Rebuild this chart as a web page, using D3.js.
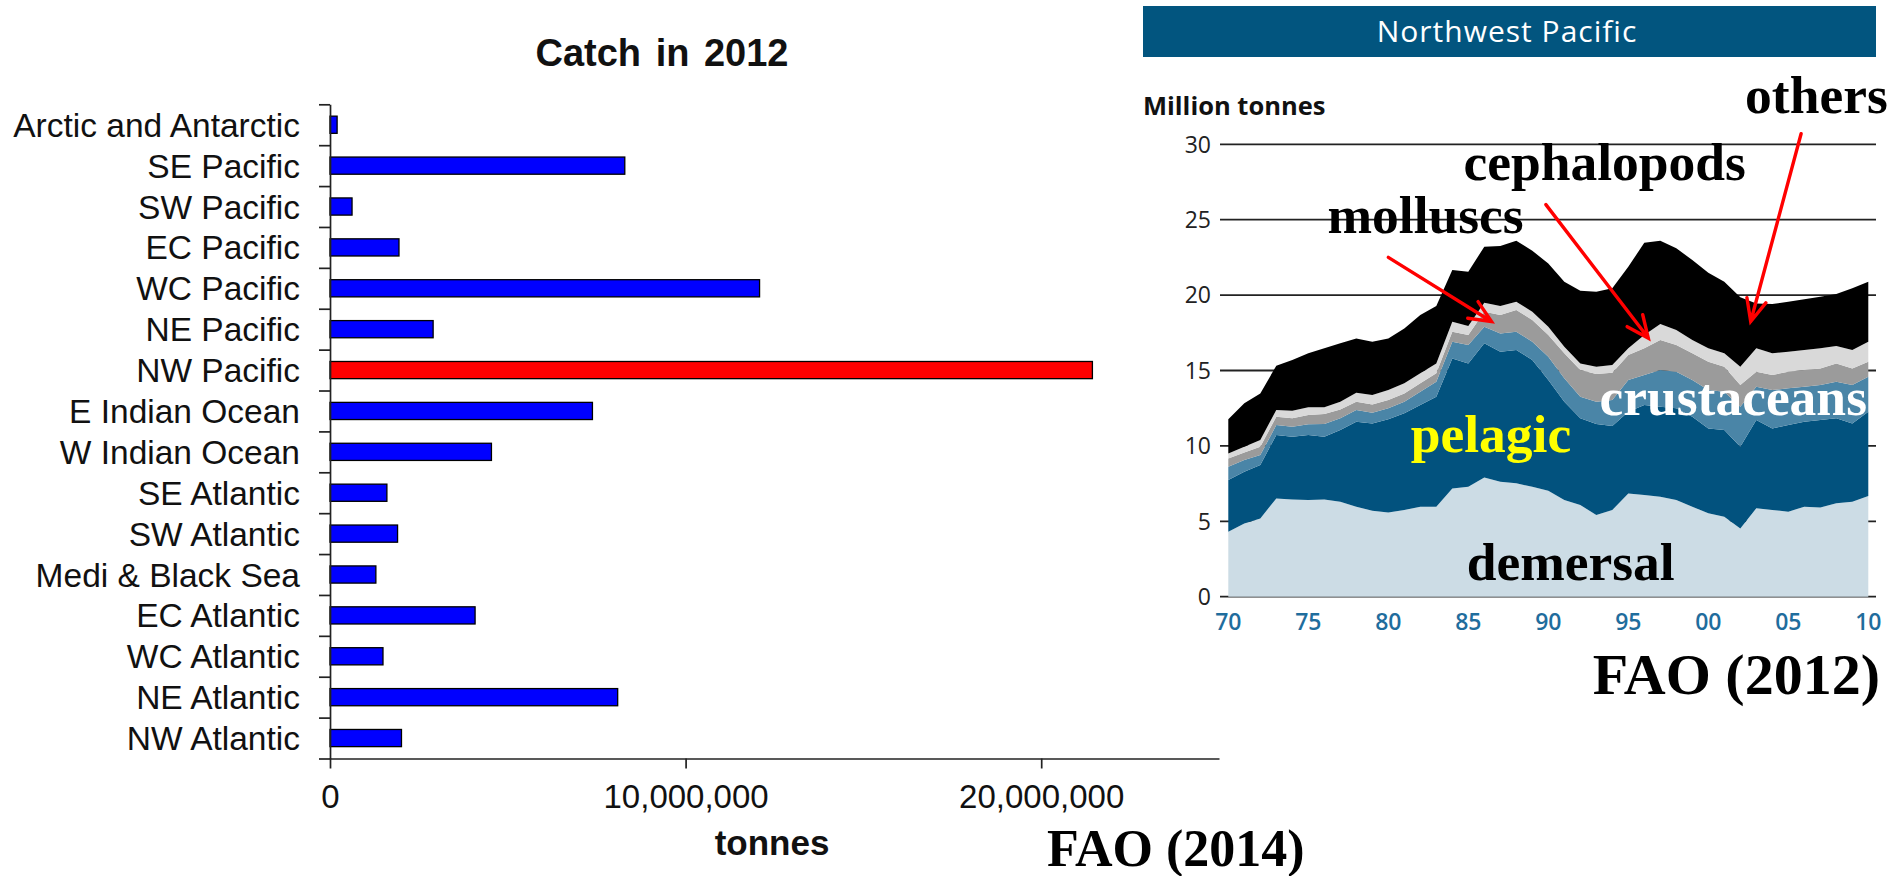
<!DOCTYPE html>
<html>
<head>
<meta charset="utf-8">
<script src="https://cdn.jsdelivr.net/npm/d3@7"></script>
<style>
  html, body { margin: 0; padding: 0; background: #ffffff; }
  svg { display: block; }
</style>
</head>
<body>
<svg id="fig" width="1904" height="876"></svg>
<script>
// ---------- Catch in 2012 by FAO fishing area (tonnes) ----------
const regions = [
  "Arctic and Antarctic", "SE Pacific", "SW Pacific", "EC Pacific", "WC Pacific",
  "NE Pacific", "NW Pacific", "E Indian Ocean", "W Indian Ocean", "SE Atlantic",
  "SW Atlantic", "Medi & Black Sea", "EC Atlantic", "WC Atlantic", "NE Atlantic", "NW Atlantic"
];
const catch2012 = [
  200000, 8290000, 620000, 1940000, 12080000,
  2900000, 21440000, 7380000, 4540000, 1600000,
  1900000, 1290000, 4080000, 1490000, 8090000, 2010000
];
const highlighted = "NW Pacific";
const catchTicks = [0, 10000000, 20000000];

// ---------- Northwest Pacific catch by species group (million tonnes) ----------
const years = [
  1970, 1971, 1972, 1973, 1974, 1975, 1976, 1977, 1978, 1979,
  1980, 1981, 1982, 1983, 1984, 1985, 1986, 1987, 1988, 1989,
  1990, 1991, 1992, 1993, 1994, 1995, 1996, 1997, 1998, 1999,
  2000, 2001, 2002, 2003, 2004, 2005, 2006, 2007, 2008, 2009, 2010
];
const demersal = [
  4.31, 4.86, 5.19, 6.52, 6.45, 6.41, 6.45, 6.30, 5.97, 5.70,
  5.59, 5.75, 5.97, 5.97, 7.18, 7.29, 7.91, 7.63, 7.52, 7.29,
  7.03, 6.41, 6.08, 5.42, 5.75, 6.85, 6.74, 6.63, 6.41, 5.97,
  5.53, 5.30, 4.53, 5.86, 5.75, 5.64, 5.97, 5.92, 6.19, 6.30, 6.68
];
const pelagic = [
  3.43, 3.43, 3.54, 4.20, 4.16, 4.31, 4.16, 4.75, 5.63, 5.79,
  6.17, 6.41, 6.74, 7.29, 8.62, 8.18, 8.89, 8.62, 8.84, 8.40,
  7.34, 6.52, 5.75, 6.03, 5.57, 5.42, 5.97, 5.97, 6.08, 5.97,
  5.63, 5.75, 5.42, 5.86, 5.41, 5.74, 5.63, 5.80, 5.64, 5.19, 5.59
];
const crustaceans = [
  0.88, 0.77, 0.66, 0.66, 0.66, 0.71, 0.84, 0.78, 0.78, 0.71,
  0.73, 0.77, 0.88, 1.00, 1.11, 1.22, 1.10, 1.21, 1.21, 1.22,
  1.55, 1.55, 1.43, 1.48, 1.72, 2.10, 1.99, 2.43, 2.43, 2.43,
  2.54, 2.54, 2.65, 2.21, 2.54, 2.44, 2.33, 2.32, 2.43, 2.55, 2.32
];
const molluscs = [
  0.55, 0.51, 0.56, 0.56, 0.56, 0.62, 0.66, 0.59, 0.55, 0.55,
  0.55, 0.55, 0.56, 0.55, 0.66, 0.66, 1.00, 1.22, 1.44, 1.44,
  1.43, 1.66, 1.77, 1.84, 1.81, 1.66, 1.77, 1.99, 1.77, 1.77,
  1.88, 1.66, 1.44, 0.99, 1.00, 1.10, 1.10, 1.10, 1.21, 1.10, 0.99
];
const cephalopods = [
  0.33, 0.38, 0.44, 0.44, 0.50, 0.51, 0.45, 0.51, 0.60, 0.62,
  0.66, 0.67, 0.66, 0.66, 0.67, 0.60, 0.60, 0.59, 0.55, 0.55,
  0.55, 0.44, 0.44, 0.48, 0.51, 0.44, 0.88, 1.06, 0.99, 0.88,
  0.89, 0.89, 1.21, 1.55, 1.44, 1.33, 1.33, 1.33, 1.15, 1.22, 1.33
];
const others = [
  2.26, 2.87, 3.09, 2.94, 3.36, 3.58, 3.91, 3.87, 3.60, 3.54,
  3.43, 3.64, 3.87, 3.80, 3.42, 3.60, 3.71, 3.98, 4.05, 4.04,
  4.20, 4.31, 4.82, 4.98, 5.09, 5.41, 6.12, 5.53, 5.42, 5.31,
  5.02, 4.75, 4.60, 2.98, 3.27, 3.31, 3.36, 3.42, 3.45, 4.09, 3.98
];
const groupKeys = ["demersal", "pelagic", "crustaceans", "molluscs", "cephalopods", "others"];
const groupColors = ["#ccdce5", "#02527e", "#4a85a7", "#9b9b9b", "#d9d9d9", "#000000"];
const yTicksMt = [0, 5, 10, 15, 20, 25, 30];
const xTickYears = [1970, 1975, 1980, 1985, 1990, 1995, 2000, 2005, 2010];
const xTickLabels = ["70", "75", "80", "85", "90", "95", "00", "05", "10"];

const svg = d3.select("#fig");
svg.append("rect").attr("width", 1904).attr("height", 876).attr("fill", "#fff");

// ================= Left: horizontal bar chart =================
const SANS = "'Liberation Sans', Arial, sans-serif";
const SERIF = "'Liberation Serif', 'Times New Roman', serif";
const FAO_SANS = "'Open Sans', 'Noto Sans', sans-serif";

const barX = d3.scaleLinear().domain([0, 25000000]).range([330, 1219]);
const barY = d3.scaleBand().domain(regions).range([104.3, 758.5])
  .paddingInner(0.58).paddingOuter(0.29);
const edgeY = d3.scaleLinear().domain([0, regions.length]).range(barY.range());

const left = svg.append("g");

left.append("text")
  .attr("x", 662).attr("y", 66)
  .attr("text-anchor", "middle")
  .attr("font-family", SANS).attr("font-weight", "bold").attr("font-size", 38)
  .attr("word-spacing", 4)
  .attr("fill", "#111")
  .text("Catch in 2012");

left.append("g").selectAll("rect")
  .data(regions.map((r, i) => ({ region: r, value: catch2012[i] })))
  .join("rect")
  .attr("x", barX(0))
  .attr("y", d => barY(d.region))
  .attr("width", d => barX(d.value) - barX(0))
  .attr("height", barY.bandwidth())
  .attr("fill", d => d.region === highlighted ? "#ff0000" : "#0000ff")
  .attr("stroke", "#000").attr("stroke-width", 1.3);

// category axis: ticks on the band boundaries
const yAxisG = left.append("g")
  .attr("transform", `translate(${barX(0)},0)`)
  .call(d3.axisLeft(edgeY).tickValues(d3.range(0, regions.length + 1))
    .tickFormat("").tickSize(11).tickSizeOuter(0));
yAxisG.selectAll("path, line").attr("stroke", "#222").attr("stroke-width", 1.7);

left.append("g").selectAll("text")
  .data(regions)
  .join("text")
  .attr("x", 300)
  .attr("y", d => barY(d) + barY.bandwidth() / 2)
  .attr("dy", "0.36em")
  .attr("text-anchor", "end")
  .attr("font-family", SANS).attr("font-size", 33.5)
  .attr("fill", "#111")
  .text(d => d);

const xAxisG = left.append("g")
  .attr("transform", `translate(0,${barY.range()[1]})`)
  .call(d3.axisBottom(barX).tickValues(catchTicks).tickFormat(d3.format(","))
    .tickSize(10).tickSizeOuter(0).tickPadding(16));
xAxisG.selectAll("path, line").attr("stroke", "#222").attr("stroke-width", 1.7);
xAxisG.selectAll("text")
  .attr("font-family", SANS).attr("font-size", 33).attr("fill", "#111");

left.append("text")
  .attr("x", 772).attr("y", 855)
  .attr("text-anchor", "middle")
  .attr("font-family", SANS).attr("font-weight", "bold").attr("font-size", 35)
  .attr("fill", "#111")
  .text("tonnes");

left.append("text")
  .attr("x", 1047).attr("y", 866)
  .attr("font-family", SERIF).attr("font-weight", "bold").attr("font-size", 52)
  .attr("fill", "#000")
  .text("FAO (2014)");

// ================= Right: stacked area chart =================
const ax = d3.scaleLinear().domain([1970, 2010]).range([1228.3, 1868.3]);
const ay = d3.scaleLinear().domain([0, 30]).range([596.7, 144.3]);

const right = svg.append("g");

// title banner
right.append("rect")
  .attr("x", 1143).attr("y", 6).attr("width", 733).attr("height", 51)
  .attr("fill", "#02557f");
right.append("text")
  .attr("x", 1507).attr("y", 42)
  .attr("text-anchor", "middle")
  .attr("font-family", FAO_SANS).attr("font-size", 30).attr("letter-spacing", 1)
  .attr("fill", "#fff")
  .text("Northwest Pacific");

right.append("text")
  .attr("x", 1143).attr("y", 115)
  .attr("font-family", FAO_SANS).attr("font-weight", "bold").attr("font-size", 25.5)
  .attr("fill", "#111")
  .text("Million tonnes");

// horizontal grid, behind the areas
right.append("g").selectAll("line")
  .data(yTicksMt)
  .join("line")
  .attr("x1", 1220).attr("x2", 1876)
  .attr("y1", d => ay(d)).attr("y2", d => ay(d))
  .attr("stroke", "#222").attr("stroke-width", 1.8);

right.append("g").selectAll("text")
  .data(yTicksMt)
  .join("text")
  .attr("x", 1211).attr("y", d => ay(d))
  .attr("dy", "0.36em")
  .attr("text-anchor", "end")
  .attr("font-family", FAO_SANS).attr("font-size", 23)
  .attr("fill", "#222")
  .text(d => d);

right.append("g").selectAll("text")
  .data(xTickYears)
  .join("text")
  .attr("x", d => ax(d)).attr("y", 622)
  .attr("dy", "0.36em")
  .attr("text-anchor", "middle")
  .attr("font-family", FAO_SANS).attr("font-size", 23).attr("font-weight", 600)
  .attr("fill", "#1f6d9d")
  .text((d, i) => xTickLabels[i]);

const series = { demersal, pelagic, crustaceans, molluscs, cephalopods, others };
const rows = years.map((yr, i) => {
  const row = { year: yr };
  groupKeys.forEach(k => { row[k] = series[k][i]; });
  return row;
});
const stacked = d3.stack().keys(groupKeys)(rows);
const area = d3.area()
  .x(d => ax(d.data.year))
  .y0(d => ay(d[0]))
  .y1(d => ay(d[1]));

right.append("g").selectAll("path")
  .data(stacked)
  .join("path")
  .attr("d", area)
  .attr("fill", (d, i) => groupColors[i]);

// group labels (baseline positions in data coordinates)
const labels = [
  { text: "others",      year: 2002.3, value: 32.1,  color: "#000" },
  { text: "cephalopods", year: 1984.7, value: 27.6,  color: "#000" },
  { text: "molluscs",    year: 1976.2, value: 24.1,  color: "#000" },
  { text: "crustaceans", year: 1993.2, value: 12.05, color: "#fff" },
  { text: "pelagic",     year: 1981.4, value: 9.6,   color: "#ffff00" },
  { text: "demersal",    year: 1984.9, value: 1.1,   color: "#000" }
];
right.append("g").selectAll("text")
  .data(labels)
  .join("text")
  .attr("x", d => ax(d.year)).attr("y", d => ay(d.value))
  .attr("font-family", SERIF).attr("font-weight", "bold").attr("font-size", 53.5)
  .attr("fill", d => d.color)
  .text(d => d.text);

// red pointer arrows (tail -> tip, in data coordinates)
const pointers = [
  { from: [1980.0, 22.5],  to: [1986.45, 18.25] },
  { from: [1989.85, 26.0], to: [1996.25, 17.15] },
  { from: [2005.8, 30.7],  to: [2002.65, 18.25] }
];
const arrowG = right.append("g")
  .attr("stroke", "#ff0000").attr("stroke-width", 3.4)
  .attr("stroke-linecap", "round").attr("fill", "none");
pointers.forEach(p => {
  const x0 = ax(p.from[0]), y0 = ay(p.from[1]);
  const x1 = ax(p.to[0]), y1 = ay(p.to[1]);
  const ang = Math.atan2(y1 - y0, x1 - x0);
  const headLen = 24, spread = 0.42;
  const h1 = [x1 - headLen * Math.cos(ang - spread), y1 - headLen * Math.sin(ang - spread)];
  const h2 = [x1 - headLen * Math.cos(ang + spread), y1 - headLen * Math.sin(ang + spread)];
  arrowG.append("path")
    .attr("d", `M${x0},${y0}L${x1},${y1}M${h1[0]},${h1[1]}L${x1},${y1}L${h2[0]},${h2[1]}`);
});

right.append("text")
  .attr("x", 1880).attr("y", 694)
  .attr("text-anchor", "end")
  .attr("font-family", SERIF).attr("font-weight", "bold").attr("font-size", 58)
  .attr("fill", "#000")
  .text("FAO (2012)");
</script>
</body>
</html>
